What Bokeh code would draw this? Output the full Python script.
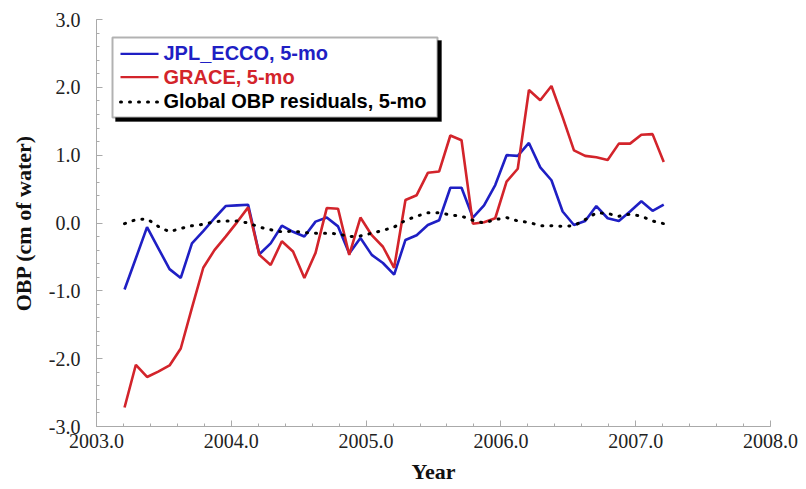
from bokeh.plotting import figure
from bokeh.models import (SingleIntervalTicker, PrintfTickFormatter, Range1d,
                          Label, Arrow, BoxAnnotation)
from bokeh.embed import file_html
from bokeh.resources import INLINE

# Monthly mid-points (decimal year), Mar 2003 .. Mar 2007
years = [2003.208, 2003.292, 2003.375, 2003.458, 2003.542, 2003.625, 2003.708, 2003.792, 2003.875, 2003.958,
         2004.042, 2004.125, 2004.208, 2004.292, 2004.375, 2004.458, 2004.542, 2004.625, 2004.708, 2004.792,
         2004.875, 2004.958,
         2005.042, 2005.125, 2005.208, 2005.292, 2005.375, 2005.458, 2005.542, 2005.625, 2005.708, 2005.792,
         2005.875, 2005.958,
         2006.042, 2006.125, 2006.208, 2006.292, 2006.375, 2006.458, 2006.542, 2006.625, 2006.708, 2006.792,
         2006.875, 2006.958,
         2007.042, 2007.125, 2007.208]

jpl_ecco = [-0.98, -0.52, -0.06, -0.37, -0.68, -0.81, -0.30, -0.12, 0.07, 0.25,
            0.26, 0.27, -0.46, -0.30, -0.04, -0.13, -0.20, 0.02, 0.08, -0.05,
            -0.45, -0.22, -0.47, -0.59, -0.76, -0.25, -0.18, -0.03, 0.04, 0.52,
            0.52, 0.08, 0.26, 0.56, 1.00, 0.99, 1.18, 0.82, 0.63, 0.17,
            -0.03, 0.03, 0.25, 0.07, 0.03, 0.17, 0.32, 0.18, 0.27]

grace = [-2.72, -2.09, -2.27, -2.19, -2.10, -1.85, -1.25, -0.66, -0.40, -0.20,
         0.01, 0.23, -0.47, -0.62, -0.27, -0.42, -0.81, -0.44, 0.22, 0.21,
         -0.47, 0.08, -0.18, -0.35, -0.66, 0.34, 0.41, 0.74, 0.76, 1.29,
         1.22, -0.01, 0.01, 0.07, 0.61, 0.80, 1.96, 1.81, 2.02, 1.56,
         1.07, 0.99, 0.97, 0.93, 1.17, 1.17, 1.30, 1.31, 0.90]

residuals = [-0.01, 0.05, 0.06, -0.05, -0.13, -0.08, -0.04, -0.02, 0.02, 0.03,
             0.03, 0.00, -0.06, -0.10, -0.13, -0.12, -0.14, -0.15, -0.15, -0.16,
             -0.20, -0.19, -0.15, -0.11, -0.06, 0.04, 0.10, 0.15, 0.15, 0.12,
             0.10, 0.04, 0.00, 0.05, 0.08, 0.03, 0.01, -0.04, -0.04, -0.05,
             -0.04, 0.05, 0.15, 0.14, 0.10, 0.13, 0.10, 0.03, -0.01]

labels = ["JPL_ECCO, 5-mo", "GRACE, 5-mo", "Global OBP residuals, 5-mo"]
BLUE = "#1f1fc4"
RED = "#d3242b"
colors = [BLUE, RED, "#000000"]
dashes = ["solid", "solid", "1 8"]

W, H = 804, 486
p = figure(width=W, height=H, output_backend="svg", toolbar_location=None,
           x_range=Range1d(2003, 2008), y_range=Range1d(-3, 3),
           min_border_left=96, min_border_right=W - 770, min_border_top=19, min_border_bottom=H - 428)
p.outline_line_color = None
p.grid.visible = False

p.line(years, jpl_ecco, line_color=BLUE, line_width=2.6)
p.line(years, grace, line_color=RED, line_width=2.6)
p.line(years, residuals, line_color="black", line_width=3, line_dash="1 8", line_cap="round")

p.xaxis.ticker = SingleIntervalTicker(interval=1, num_minor_ticks=5)
p.yaxis.ticker = SingleIntervalTicker(interval=1, num_minor_ticks=5)
for ax in (p.xaxis[0], p.yaxis[0]):
    ax.formatter = PrintfTickFormatter(format="%.1f")
    ax.axis_line_color = "#aaaaaa"
    ax.major_tick_line_color = "#aaaaaa"
    ax.minor_tick_line_color = "#aaaaaa"
    ax.major_tick_in = 6
    ax.major_tick_out = 0
    ax.minor_tick_in = 3
    ax.minor_tick_out = 0
    ax.major_label_text_font = "Liberation Serif"
    ax.major_label_text_font_size = "20px"
    ax.major_label_text_color = "#222222"
    ax.axis_label_text_font = "Liberation Serif"
    ax.axis_label_text_font_style = "bold"
    ax.axis_label_text_font_size = "22px"
    ax.axis_label_text_color = "#111111"
p.xaxis.axis_label = "Year"
p.yaxis.axis_label = "OBP (cm of water)"
p.xaxis.major_label_standoff = 7
p.xaxis.axis_label_standoff = 8
p.yaxis.major_label_standoff = 16
p.yaxis.axis_label_standoff = 10

# Legend drawn by hand (frame-relative screen units, y measured up from the frame bottom)
p.add_layout(BoxAnnotation(left=19, right=345, top=386, bottom=305,
                           left_units="screen", right_units="screen", top_units="screen", bottom_units="screen",
                           fill_color="black", fill_alpha=1, line_color="black", line_width=1))
p.add_layout(BoxAnnotation(left=16, right=341, top=389, bottom=309,
                           left_units="screen", right_units="screen", top_units="screen", bottom_units="screen",
                           fill_color="white", fill_alpha=1, line_color="black", line_width=2))
row_y = [372.7, 349.3, 324.5]
base_y = [374.0, 350.0, 326.0]
for i in range(3):
    p.add_layout(Arrow(x_start=24, y_start=row_y[i], x_end=62, y_end=row_y[i],
                       start_units="screen", end_units="screen", start=None, end=None,
                       line_color=colors[i], line_width=(3 if i == 2 else 2.2), line_dash=dashes[i],
                       line_cap=("round" if i == 2 else "butt")))
    p.add_layout(Label(x=67, y=base_y[i], x_units="screen", y_units="screen", text=labels[i],
                       text_font="Liberation Sans", text_font_style="bold", text_font_size="20px",
                       text_color=colors[i], text_baseline="alphabetic", text_align="left"))

open("out.html", "w").write(file_html(p, INLINE))
